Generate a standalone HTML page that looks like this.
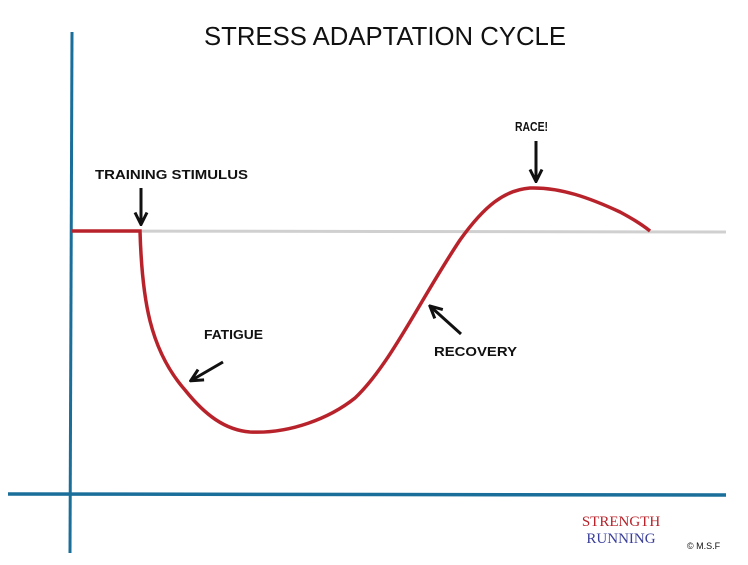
<!DOCTYPE html>
<html><head><style>body{margin:0;background:#fff}svg{display:block}</style></head><body>
<svg width="748" height="565" viewBox="0 0 748 565" xmlns="http://www.w3.org/2000/svg">
<defs><marker id="ah" viewBox="0 0 10 10" refX="8" refY="5" markerWidth="5" markerHeight="5" orient="auto"><path d="M1,1 L9,5 L1,9" fill="none" stroke="#111" stroke-width="2"/></marker></defs>
<text x="385" y="45" text-anchor="middle" font-family="Liberation Sans, sans-serif" font-size="26" fill="#111" textLength="362" lengthAdjust="spacingAndGlyphs">STRESS  ADAPTATION  CYCLE</text>
<line x1="72" y1="32" x2="70" y2="553" stroke="#1a6e9a" stroke-width="3"/>
<line x1="8" y1="494" x2="726" y2="495" stroke="#1a6e9a" stroke-width="3.5"/>
<line x1="72" y1="231" x2="726" y2="232" stroke="#d0d0d0" stroke-width="3"/>
<path d="M72,231 L140,231 C142,300 150,350 185,390 C205,415 225,430 250,432 C290,434 330,418 355,398 C390,365 420,300 460,240 C485,205 505,190 530,188 C560,187 590,198 620,212 C635,220 645,227 650,231" fill="none" stroke="#b8232b" stroke-width="3.5"/>
<text x="95" y="179" font-family="Liberation Sans, sans-serif" font-size="13" font-weight="bold" fill="#111" textLength="153" lengthAdjust="spacingAndGlyphs">TRAINING STIMULUS</text>
<text x="515" y="131" font-family="Liberation Sans, sans-serif" font-size="13" font-weight="bold" fill="#111" textLength="33" lengthAdjust="spacingAndGlyphs">RACE!</text>
<text x="204" y="339" font-family="Liberation Sans, sans-serif" font-size="13" font-weight="bold" fill="#111" textLength="59" lengthAdjust="spacingAndGlyphs">FATIGUE</text>
<text x="434" y="356" font-family="Liberation Sans, sans-serif" font-size="13" font-weight="bold" fill="#111" textLength="83" lengthAdjust="spacingAndGlyphs">RECOVERY</text>
<line x1="141" y1="188" x2="141" y2="223" stroke="#111" stroke-width="3" marker-end="url(#ah)"/>
<line x1="536" y1="141" x2="536" y2="180" stroke="#111" stroke-width="3" marker-end="url(#ah)"/>
<line x1="223" y1="362" x2="192" y2="380" stroke="#111" stroke-width="3" marker-end="url(#ah)"/>
<line x1="461" y1="334" x2="431" y2="307" stroke="#111" stroke-width="3" marker-end="url(#ah)"/>
<text x="621" y="526" text-anchor="middle" font-family="Liberation Serif, serif" font-size="15" fill="#b8232b">STRENGTH</text>
<text x="621" y="543" text-anchor="middle" font-family="Liberation Serif, serif" font-size="15" fill="#3a3f9a">RUNNING</text>
<text x="687" y="549" font-family="Liberation Sans, sans-serif" font-size="9" fill="#111">© M.S.F</text>
</svg>
</body></html>
